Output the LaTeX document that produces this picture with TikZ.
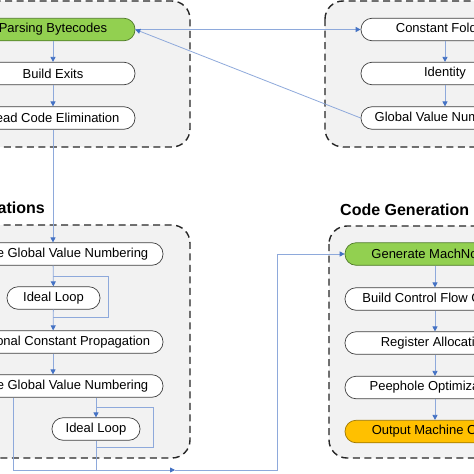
\documentclass[tikz,border=0pt]{standalone}
\usepackage{fontspec}
\setmainfont{Liberation Sans}
\usetikzlibrary{arrows.meta}
\definecolor{lineblue}{HTML}{8EA9DB}
\definecolor{tipblue}{HTML}{4472C4}
\definecolor{boxgray}{HTML}{F2F2F2}
\definecolor{nodeline}{HTML}{404040}
\definecolor{greenfill}{HTML}{92D050}
\definecolor{greenline}{HTML}{4E7A27}
\definecolor{orangefill}{HTML}{FFC000}
\definecolor{orangeline}{HTML}{9C7600}
\tikzset{
  stage/.style={draw=black!85, line width=1.4pt, dash pattern=on 7pt off 4.5pt, fill=boxgray, rounded corners=18pt},
  pass/.style={draw=nodeline, line width=0.7pt, fill=white, rounded corners=11pt, minimum height=22.5pt, inner sep=0pt, font=\fontsize{13}{15}\selectfont},
  startpass/.style={pass, fill=greenfill, draw=greenline},
  endpass/.style={pass, fill=orangefill, draw=orangeline},
  flow/.style={draw=lineblue, line width=0.8pt, -{Triangle[length=5pt,width=5pt,color=tipblue]}},
  plain/.style={draw=lineblue, line width=0.8pt},
  title/.style={font=\bfseries\fontsize{16}{18}\selectfont, inner sep=0pt}
}
\begin{document}
\begin{tikzpicture}[x=1pt,y=-1pt]
\useasboundingbox (0,0) rectangle (474,474);
\clip (0,0) rectangle (474,474);
\fill[white] (0,0) rectangle (474,474);
% stage boxes
\draw[stage] (-60,1) rectangle (190,147);
\draw[stage] (325,1) rectangle (560,147);
\draw[stage] (-80,225) rectangle (190,458);
\draw[stage] (329,226) rectangle (560,458);
% titles
\node[title, anchor=east] (optt) at (45,209.5) {Optimizations};
\node[title, anchor=west] (cgt) at (340,209.5) {Code Generation};
% parsing
\node[startpass, minimum width=164pt] (parse) at (53,29.5) {Parsing Bytecodes};
\node[pass, minimum width=164pt] (exits) at (53,73.5) {Build Exits};
\node[pass, minimum width=164pt] (dce) at (53,118) {Dead Code Elimination};
% top right
\node[pass, minimum width=168pt] (cf) at (445,29.5) {Constant Folding};
\node[pass, minimum width=168pt] (ident) at (445,73.5) {Identity};
\node[pass, minimum width=168pt] (gvn) at (445,118) {Global Value Numbering};
% optimizations
\node[pass, minimum width=220pt] (igvn1) at (53,254) {Iterative Global Value Numbering};
\node[pass, minimum width=93pt] (il1) at (53.5,298) {Ideal Loop};
\node[pass, minimum width=220pt] (ccp) at (53,342) {Conditional Constant Propagation};
\node[pass, minimum width=220pt] (igvn2) at (53,386) {Iterative Global Value Numbering};
\node[pass, minimum width=88pt] (il2) at (96,429) {Ideal Loop};
% code generation
\node[startpass, minimum width=180pt] (gen) at (435,254) {Generate MachNodes};
\node[pass, minimum width=180pt] (cfg) at (435,299) {Build Control Flow Graph};
\node[pass, minimum width=180pt] (ra) at (435,343) {Register Allocation};
\node[pass, minimum width=180pt] (peep) at (435,387.5) {Peephole Optimization};
\node[endpass, minimum width=180pt] (out) at (435,431.5) {Output Machine Code};
% connectors: parsing
\draw[flow] (parse) -- (exits);
\draw[flow] (exits) -- (dce);
\draw[flow] (parse.east) -- (cf.west);
\draw[flow] (cf) -- (ident);
\draw[flow] (ident) -- (gvn);
\draw[flow] (gvn.west) -- (parse.east);
\draw[flow] (dce) -- (igvn1);
% optimizations
\coordinate (l1a) at (53,276);
\coordinate (l1b) at (108,276);
\coordinate (l1c) at (108,317);
\coordinate (l1d) at (53,317);
\draw[plain] (l1a) -- (l1b) -- (l1c) -- (l1d);
\draw[flow] (igvn1) -- (il1);
\draw[flow] (il1) -- (ccp);
\draw[flow] (ccp) -- (igvn2);
\coordinate (l2a) at (96,407);
\coordinate (l2b) at (153,407);
\coordinate (l2c) at (153,447);
\coordinate (l2d) at (96,447);
\draw[plain] (l2a) -- (l2b) -- (l2c) -- (l2d);
\draw[flow] (igvn2.south -| il2.north) -- (il2.north);
\coordinate (j2) at (96,470);
\draw[plain] (il2.south) -- (j2);
\coordinate (j1) at (13,470);
\coordinate (mid) at (175,470);
\coordinate (turn) at (277,470);
\draw[flow] (igvn2.south -| j1) -- (j1) -- (mid);
\draw[flow] (mid) -- (turn) |- (gen.west);
% code generation
\draw[flow] (gen) -- (cfg);
\draw[flow] (cfg) -- (ra);
\draw[flow] (ra) -- (peep);
\draw[flow] (peep) -- (out);
\end{tikzpicture}
\end{document}
